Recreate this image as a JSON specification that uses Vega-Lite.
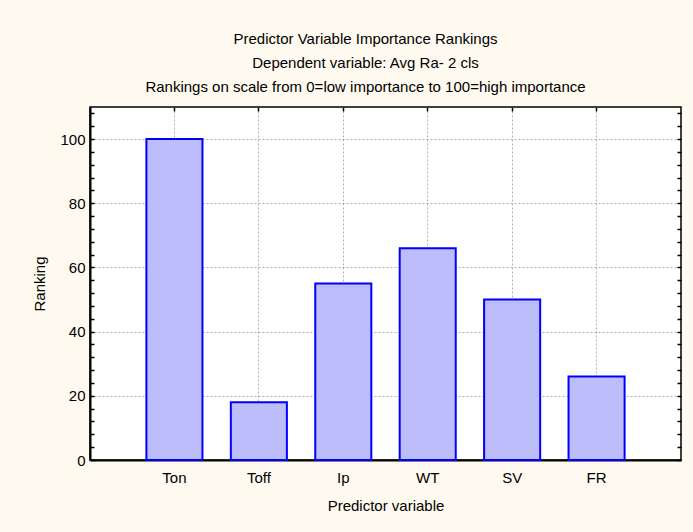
{
  "$schema": "https://vega.github.io/schema/vega-lite/v6.json",
  "width": 591,
  "height": 353,
  "autosize": {"type": "none"},
  "padding": {"left": 90, "top": 107, "right": 12, "bottom": 72},
  "background": "#FFFAF0",
  "config": {
    "font": "Liberation Sans",
    "view": {"fill": "#ffffff", "stroke": "#000000", "strokeWidth": 1.5},
    "axis": {"labelFont": "Liberation Sans", "titleFont": "Liberation Sans", "labelFontSize": 15, "titleFontSize": 15, "titleFontWeight": "normal", "labelColor": "#000000", "titleColor": "#000000", "tickColor": "#000000", "domainColor": "#000000"}
  },
  "title": {
    "text": ["Predictor Variable Importance Rankings", "Dependent variable: Avg Ra- 2 cls", "Rankings on scale from 0=low importance to 100=high importance"],
    "font": "Liberation Sans",
    "fontSize": 15,
    "fontWeight": "normal",
    "color": "#000000",
    "lineHeight": 24,
    "anchor": "middle",
    "frame": "group",
    "dx": -20,
    "offset": 11
  },
  "data": {
    "values": [
      {"variable": "Ton", "ranking": 100},
      {"variable": "Toff", "ranking": 18},
      {"variable": "Ip", "ranking": 55},
      {"variable": "WT", "ranking": 66},
      {"variable": "SV", "ranking": 50},
      {"variable": "FR", "ranking": 26}
    ]
  },
  "layer": [
    {
      "mark": {"type": "bar", "fill": "#bdbdfb", "stroke": "#0000ff", "strokeWidth": 2},
      "encoding": {
        "x": {
          "field": "variable", "type": "nominal", "sort": null,
          "scale": {"paddingInner": 0.336, "paddingOuter": 0.668},
          "axis": {
            "orient": "bottom", "title": "Predictor variable", "labelAngle": 0,
            "ticks": false, "labelPadding": 10, "titlePadding": 13,
            "domainWidth": 2, "grid": true, "bandPosition": 0.5,
            "gridColor": "#b0b0b0", "gridDash": [2, 2], "gridWidth": 1
          }
        },
        "y": {
          "field": "ranking", "type": "quantitative",
          "scale": {"domain": [0, 110], "nice": false},
          "axis": {
            "orient": "left", "title": "Ranking",
            "values": [0, 4, 8, 12, 16, 20, 24, 28, 32, 36, 40, 44, 48, 52, 56, 60, 64, 68, 72, 76, 80, 84, 88, 92, 96, 100, 104, 108],
            "labelExpr": "datum.value % 20 === 0 ? datum.label : ''",
            "tickSize": -4, "tickWidth": 1.5, "labelPadding": 9, "titlePadding": 12,
            "domainWidth": 2, "grid": true,
            "gridOpacity": {"condition": {"test": "datum.value % 20 === 0 && datum.value > 0", "value": 1}, "value": 0},
            "gridColor": "#b0b0b0", "gridDash": [2, 2], "gridWidth": 1
          }
        }
      }
    },
    {
      "mark": {"type": "tick", "opacity": 0},
      "encoding": {
        "x": {
          "field": "variable", "type": "nominal", "sort": null,
          "axis": {"orient": "top", "title": null, "labels": false, "ticks": true, "tickSize": -4, "tickWidth": 1.5, "bandPosition": 0.5, "domain": false, "grid": false}
        },
        "y": {
          "field": "ranking", "type": "quantitative",
          "axis": {
            "orient": "right", "title": null, "labels": false,
            "values": [0, 4, 8, 12, 16, 20, 24, 28, 32, 36, 40, 44, 48, 52, 56, 60, 64, 68, 72, 76, 80, 84, 88, 92, 96, 100, 104, 108],
            "tickSize": -4, "tickWidth": 1.5, "domain": false, "grid": false
          }
        }
      }
    }
  ],
  "resolve": {"axis": {"x": "independent", "y": "independent"}}
}
